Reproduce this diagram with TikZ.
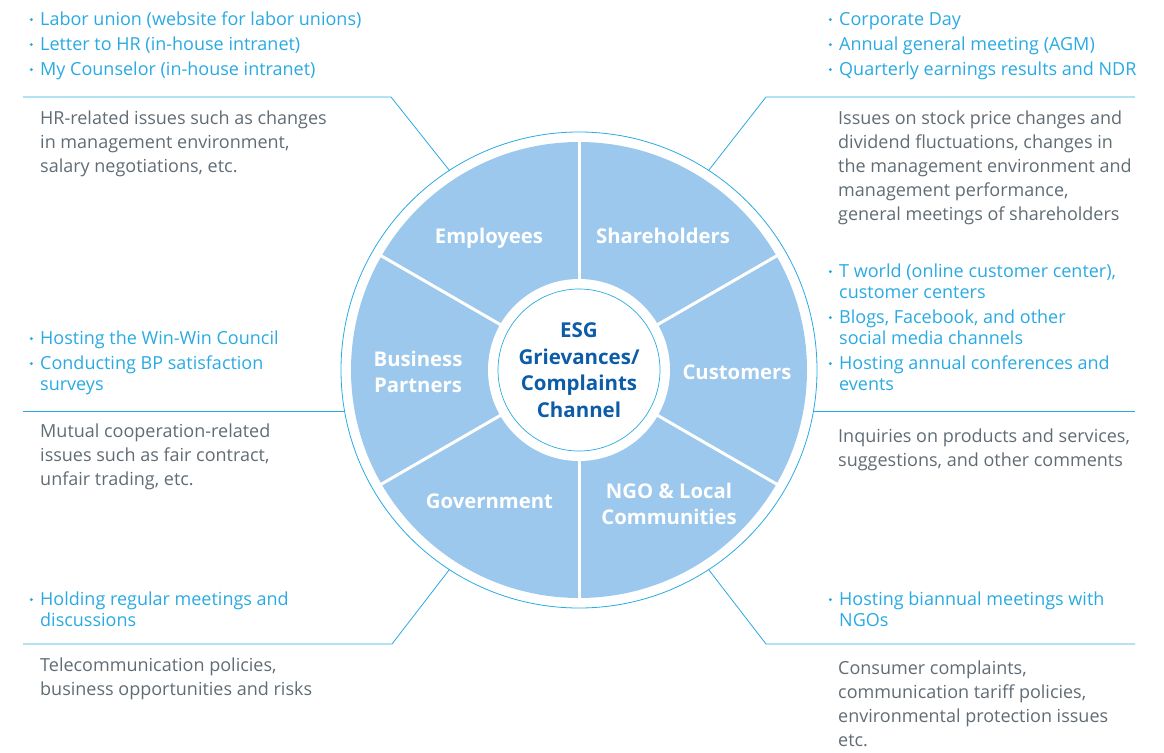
\documentclass[tikz,border=0pt]{standalone}
\usepackage{fontspec}
\setmainfont{Open Sans}
\usepackage{graphicx}
\usepackage{tikz}

\definecolor{chanblue}{RGB}{41,170,226}
\definecolor{issuegray}{RGB}{96,108,116}
\definecolor{grpfill}{RGB}{155,200,236}
\definecolor{coreblue}{RGB}{12,92,168}

\newcommand{\tp}{\rule{0pt}{14pt}}
\newcommand{\gtp}{\rule{0pt}{15pt}}
\newcommand{\bul}{\makebox[10.5pt][l]{\tikz[baseline=0pt]\fill[chanblue] (1.8pt,5.6pt) circle (1.6pt);}}
\newcommand{\ind}{\hspace*{10.5pt}}

\tikzset{
  chan/.style={anchor=north west, inner sep=0, align=left, text=chanblue, font=\fontsize{18}{21}\selectfont},
  issue/.style={anchor=north west, inner sep=0, align=left, text=issuegray, font=\fontsize{18}{24}\selectfont},
  grp/.style={anchor=north, inner sep=0, align=center, text=white, font=\bfseries\fontsize{20.3}{26}\selectfont},
  link/.style={draw=chanblue, line width=0.8pt},
}

\begin{document}
\begin{tikzpicture}[x=1pt,y=-1pt]
\useasboundingbox (0,0) rectangle (1164,752);

\coordinate (hub) at (579,370);

% wheel
\fill[grpfill] (hub) circle (228pt);
\foreach \a in {30,90,...,330}
  \draw[white, line width=3pt] (hub) ++(\a:85pt) -- ++(\a:150pt);
\fill[white] (hub) circle (91pt);
\node[circle, draw=chanblue, line width=0.7pt, minimum size=162pt, inner sep=0, align=center,
      text=coreblue, font=\bfseries\fontsize{20.5}{26.5}\selectfont] (core) at (hub)
      {ESG\\Grievances/\\Complaints\\Channel};
\node[circle, draw=chanblue, line width=0.8pt, minimum size=476pt, inner sep=0, outer sep=0] (ring) at (hub) {};

% stakeholder groups
\node[grp] (emp) at (489,228) {\gtp Employees};
\node[grp] (shr) at (663,228) {\gtp Shareholders};
\node[grp] (cus) at (737,364) {\gtp Customers};
\node[grp] (bpt) at (418,351) {\gtp Business\\Partners};
\node[grp] (gov) at (489.5,493) {\gtp Government};
\node[grp] (ngo) at (669,483) {\gtp NGO \& Local\\Communities};

% connectors
\coordinate (tlK) at (391,97);   \coordinate (tlE) at (23,97);
\coordinate (trK) at (766,97);   \coordinate (trE) at (1135,97);
\coordinate (blK) at (392,644);  \coordinate (blE) at (23,644);
\coordinate (brK) at (766,644);  \coordinate (brE) at (1135,644);
\coordinate (lmE) at (23,412);   \coordinate (rmE) at (1135,412);

\draw[link] (ring.123) -- (tlK) -- (tlE);
\draw[link] (ring.57) -- (trK) -- (trE);
\draw[link] (ring.237) -- (blK) -- (blE);
\draw[link] (ring.303) -- (brK) -- (brE);
\draw[link] (ring.190) -- (ring.190 -| lmE);
\draw[link] (ring.350) -- (ring.350 -| rmE);

% employees
\node[chan] (empCh) at (29.5,11) {\tp\bul Labor union (website for labor unions)\\[4pt]
  \bul Letter to HR (in-house intranet)\\[4pt]
  \bul My Counselor (in-house intranet)};
\node[issue] (empIs) at (40,110) {\tp HR-related issues such as changes\\
  in management environment,\\
  salary negotiations, etc.};

% shareholders
\node[chan] (shrCh) at (828.5,11) {\tp\bul Corporate Day\\[4pt]
  \bul Annual general meeting (AGM)\\[4pt]
  \bul Quarterly earnings results and NDR};
\node[issue] (shrIs) at (838,110) {\tp Issues on stock price changes and\\
  dividend fluctuations, changes in\\
  the management environment and\\
  management performance,\\
  general meetings of shareholders};

% business partners
\node[chan] (bptCh) at (29.5,330) {\tp\bul Hosting the Win-Win Council\\[4pt]
  \bul Conducting BP satisfaction\\
  \ind surveys};
\node[issue] (bptIs) at (40,423) {\tp Mutual cooperation-related\\
  issues such as fair contract,\\
  unfair trading, etc.};

% customers
\node[chan] (cusCh) at (828.5,263) {\tp\bul T world (online customer center),\\
  \ind customer centers\\[4pt]
  \bul Blogs, Facebook, and other\\
  \ind social media channels\\[4pt]
  \bul Hosting annual conferences and\\
  \ind events};
\node[issue] (cusIs) at (838,428) {\tp Inquiries on products and services,\\
  suggestions, and other comments};

% government
\node[chan] (govCh) at (29.5,591) {\tp\bul Holding regular meetings and\\
  \ind discussions};
\node[issue] (govIs) at (40,657) {\tp Telecommunication policies,\\
  business opportunities and risks};

% ngo
\node[chan] (ngoCh) at (828.5,591) {\tp\bul Hosting biannual meetings with\\
  \ind NGOs};
\node[issue] (ngoIs) at (838,660) {\tp Consumer complaints,\\
  communication tariff policies,\\
  environmental protection issues\\
  etc.};

\end{tikzpicture}
\end{document}
